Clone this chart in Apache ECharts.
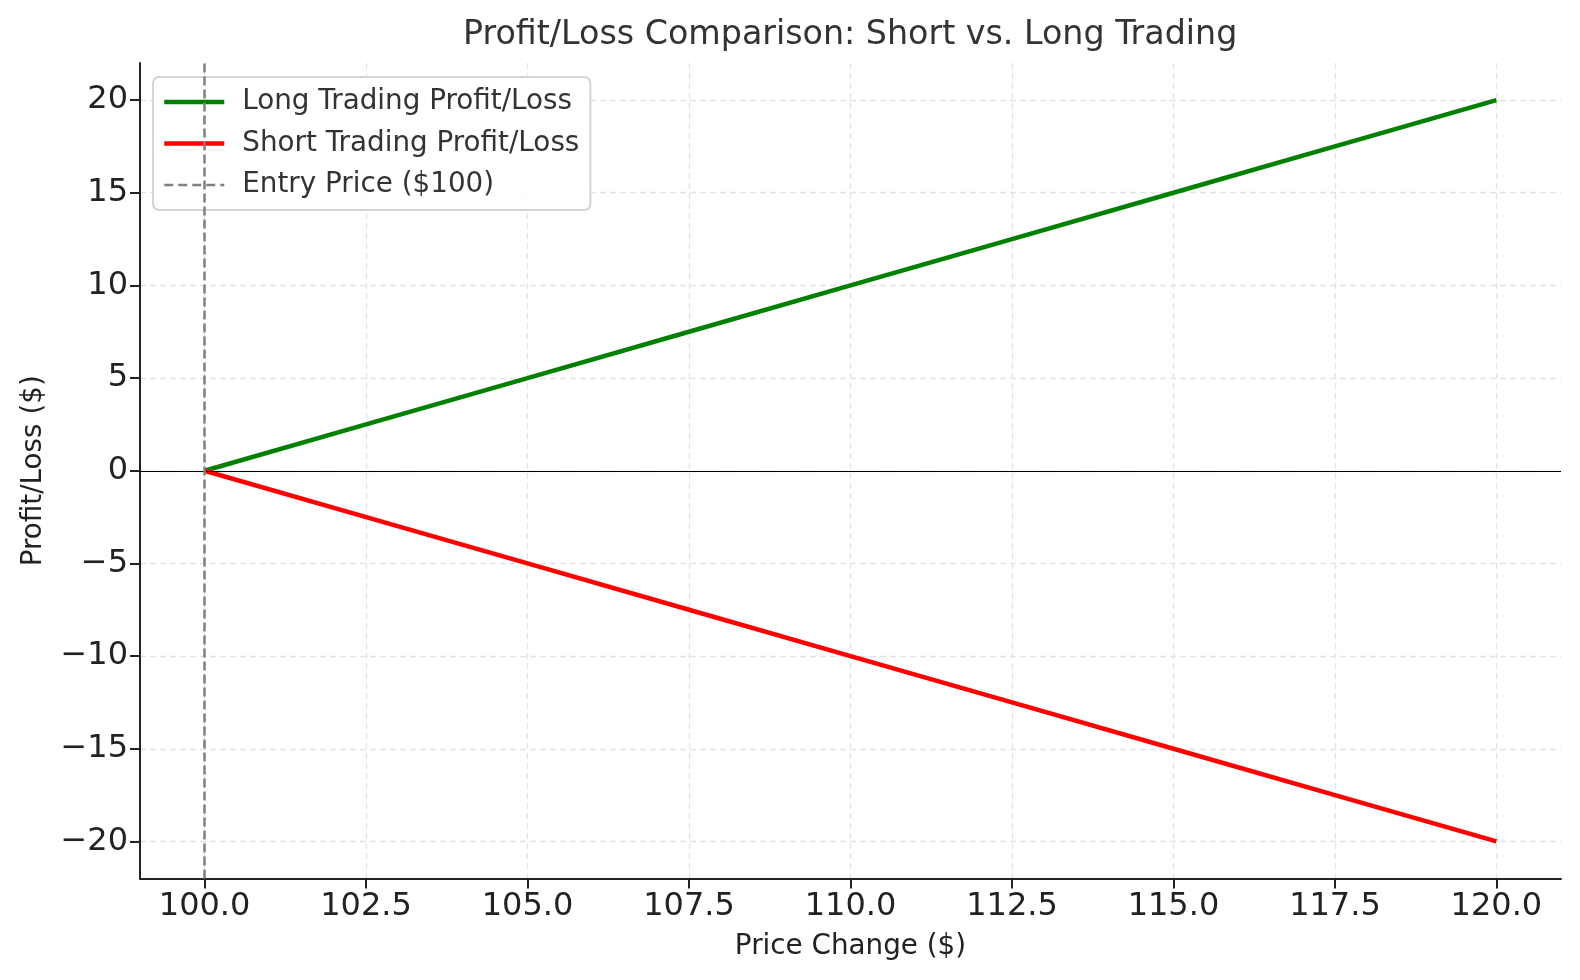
<!DOCTYPE html>
<html>
<head>
<meta charset="utf-8">
<script src="https://cdn.jsdelivr.net/npm/echarts@6/dist/echarts.min.js"></script>
<style>html,body{margin:0;padding:0;background:#fff}#c{width:1580px;height:980px}</style>
</head>
<body>
<div id="c"></div>
<script>
const priceChange = [100, 102.5, 105, 107.5, 110, 112.5, 115, 117.5, 120];
const longPL = [0, 2.5, 5, 7.5, 10, 12.5, 15, 17.5, 20];
const shortPL = [0, -2.5, -5, -7.5, -10, -12.5, -15, -17.5, -20];
const entryPrice = 100;
const xTicks = [100, 102.5, 105, 107.5, 110, 112.5, 115, 117.5, 120];
const yTicks = [-20, -15, -10, -5, 0, 5, 10, 15, 20];
const seriesNames = ['Long Trading Profit/Loss', 'Short Trading Profit/Loss', 'Entry Price ($100)'];

const FONT = 'DejaVu Sans';
const chart = echarts.init(document.getElementById('c'), null, {renderer: 'canvas'});
const pairs = (xs, ys) => xs.map((x, i) => [x, ys[i]]);
const gridLine = {show: true, lineStyle: {color: '#e3e3e3', width: 1.3, type: [6, 4]}};

chart.setOption({
  animation: false,
  backgroundColor: '#ffffff',
  title: {
    text: 'Profit/Loss Comparison: Short vs. Long Trading',
    left: 458, top: 14,
    textStyle: {fontFamily: FONT, fontSize: 33.3, fontWeight: 'normal', color: '#333333'}
  },
  grid: {left: 140, right: 19, top: 63, bottom: 101.5, containLabel: false},
  legend: {
    orient: 'vertical', left: 153, top: 77,
    data: [
      {name: seriesNames[0], itemStyle: {opacity: 0}, lineStyle: {width: 4.5, color: '#008000'}},
      {name: seriesNames[1], itemStyle: {opacity: 0}, lineStyle: {width: 4.5, color: '#ff0000'}},
      {name: seriesNames[2], itemStyle: {opacity: 0}, lineStyle: {width: 2.5, color: '#808080', type: [9, 5]}}
    ],
    itemWidth: 60, itemHeight: 14, itemGap: 9.5,
    padding: [9, 11, 9, 9],
    backgroundColor: 'rgba(255,255,255,0.85)',
    borderColor: '#d4d4d4', borderWidth: 2, borderRadius: 6,
    textStyle: {fontFamily: FONT, fontSize: 27.8, color: '#333333', lineHeight: 32, padding: [0, 0, 0, 13]}
  },
  xAxis: {
    type: 'value', min: 99, max: 121,
    name: 'Price Change ($)', nameLocation: 'middle', nameGap: 54,
    nameTextStyle: {fontFamily: FONT, fontSize: 27.8, color: '#222222'},
    axisLine: {show: true, onZero: false, lineStyle: {color: '#222222', width: 2}},
    axisTick: {show: true, customValues: xTicks, length: 10, lineStyle: {color: '#222222', width: 2}},
    axisLabel: {customValues: xTicks, margin: 12, fontFamily: FONT, fontSize: 32, color: '#222222',
      formatter: v => v.toFixed(1)},
    splitLine: gridLine
  },
  yAxis: {
    type: 'value', min: -22, max: 22,
    name: 'Profit/Loss ($)', nameLocation: 'middle', nameGap: 92, nameRotate: 90,
    nameTextStyle: {fontFamily: FONT, fontSize: 27.8, color: '#222222'},
    axisLine: {show: true, onZero: false, lineStyle: {color: '#222222', width: 2}},
    axisTick: {show: true, customValues: yTicks, length: 10, lineStyle: {color: '#222222', width: 2}},
    axisLabel: {customValues: yTicks, margin: 12, fontFamily: FONT, fontSize: 32, color: '#222222',
      formatter: v => (v < 0 ? '\u2212' + Math.abs(v) : String(v))},
    splitLine: gridLine
  },
  series: [
    {
      name: '__zero', type: 'line', data: [], symbol: 'none', silent: true, z: 1,
      markLine: {silent: true, symbol: 'none', animation: false, label: {show: false},
        lineStyle: {color: '#000000', width: 1.2, type: 'solid'},
        data: [{yAxis: 0}]}
    },
    {
      name: seriesNames[2], type: 'line', data: [], symbol: 'none', z: 2,
      lineStyle: {color: '#808080', width: 2.5, type: [9, 4]},
      itemStyle: {color: '#808080'},
      markLine: {silent: true, symbol: 'none', animation: false, label: {show: false},
        lineStyle: {color: '#808080', width: 2.5, type: [9, 4]},
        data: [{xAxis: entryPrice}]}
    },
    {
      name: seriesNames[0], type: 'line', data: pairs(priceChange, longPL), symbol: 'none', z: 3,
      lineStyle: {color: '#008000', width: 4.5}, itemStyle: {color: '#008000'}
    },
    {
      name: seriesNames[1], type: 'line', data: pairs(priceChange, shortPL), symbol: 'none', z: 3,
      lineStyle: {color: '#ff0000', width: 4.5}, itemStyle: {color: '#ff0000'}
    }
  ]
});
</script>
</body>
</html>
